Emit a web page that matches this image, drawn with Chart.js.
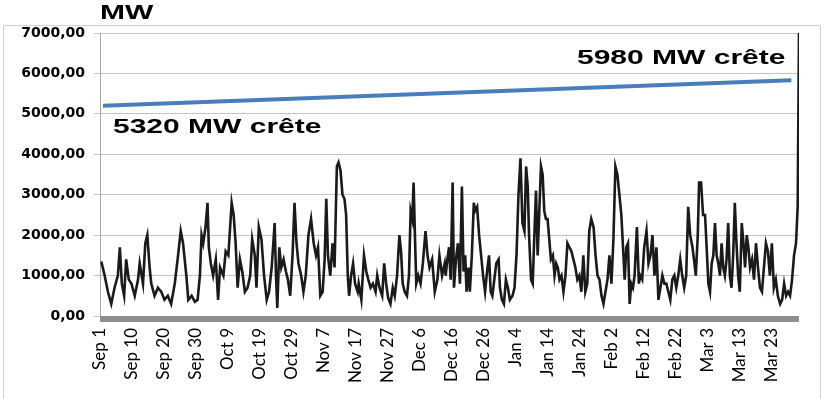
<!DOCTYPE html>
<html>
<head>
<meta charset="utf-8">
<script src="https://cdn.jsdelivr.net/npm/chart.js@4/dist/chart.umd.min.js"></script>
<style>
  html, body { margin: 0; padding: 0; background: #fff; }
  canvas { display: block; }
</style>
</head>
<body>
<canvas id="graph" width="826" height="399"></canvas>
<script>
// ---- DATA ----
// day index since Sep 1 and wind output (MW)
const days = [
  0.4, 1.4, 2.4, 3.4, 4.4, 5.4, 6.0, 6.6, 7.3, 7.9, 8.7, 9.5, 10.5, 11.5, 12.0, 13.0, 13.7, 14.3, 15.0, 15.5,
  16.5, 17.5, 18.5, 19.5, 20.5, 21.5, 22.6, 23.6, 24.4, 25.1, 26.1,
  26.7, 27.7, 28.7, 29.5, 30.2, 30.7, 31.2, 31.9, 32.5, 32.9, 33.5, 34.2, 35.0, 35.7, 36.3, 37.3, 38.0, 38.8, 39.8, 40.4,
  41.0, 41.6, 42.3, 43.0, 43.8, 44.6, 45.4, 46.0, 46.8, 47.3, 48.0, 48.8, 49.6, 50.4, 51.1, 51.9,
  52.8, 53.2, 53.6, 54.2, 54.8, 55.5, 56.2, 56.8, 57.5, 58.2, 58.8, 59.4, 60.0, 60.8, 61.5, 62.2, 63.0, 63.8, 64.6, 65.3,
  65.9, 66.6, 67.3, 67.9, 68.4, 68.9, 69.6, 70.3, 70.9, 71.6, 72.1, 72.7, 73.3, 73.9, 74.4, 74.9, 75.3, 75.9, 76.5, 77.1, 77.9,
  78.2, 79.0, 79.8, 80.5, 81.1, 81.8, 82.5, 83.3, 83.8, 84.5, 85.3, 85.9, 86.5, 87.1, 87.8, 88.5, 89.1, 89.8, 90.5, 91.0,
  91.5, 92.1, 92.8, 93.4, 93.9, 94.4, 94.8, 95.2, 95.6, 96.2, 96.9, 97.6, 98.4, 99.0, 99.6, 100.4, 101.2, 102.0, 102.6, 103.4, 104.2,
  104.5, 105.0, 105.5, 106.0, 106.6, 107.0, 107.6, 108.2, 108.8, 109.4, 109.9, 110.4, 110.8, 111.4, 111.8, 112.4, 113.0, 113.4, 114.0, 114.6,
  115.2, 115.8, 116.4, 117.0, 117.6, 118.1, 118.6, 119.2, 119.8, 120.5, 120.9, 121.5, 122.1, 122.7, 123.3, 123.9, 124.7, 125.3, 125.9, 126.5,
  127.1, 127.7, 128.3, 128.8, 129.3, 129.7, 130.3,
  130.8, 131.3, 131.8, 132.3, 132.8, 133.3, 133.8, 134.3, 134.8, 135.3, 135.9, 136.3, 136.9, 137.4, 137.9, 138.4, 138.9, 139.5, 140.1, 140.7,
  141.3, 141.9, 142.5, 143.1, 143.7, 144.3, 144.9, 145.5, 146.1, 146.7, 147.3, 147.9, 148.5, 149.2, 149.8, 150.4, 151.0, 151.6, 152.2, 152.8,
  153.4, 154.0, 154.6, 155.2, 155.8, 156.4, 157.0,
  157.6, 158.1, 158.6, 159.1, 159.6, 160.1, 160.6, 161.1, 161.6, 162.3, 162.9, 163.3, 163.9, 164.5, 165.2, 165.8, 166.4, 167.0, 167.6, 168.2,
  168.8, 169.4, 170.0, 170.6, 171.2, 171.8, 172.4, 173.0, 173.6, 174.2, 174.8, 175.4, 176.0, 176.6, 177.2, 177.8, 178.4, 179.1, 179.7, 180.1,
  180.7, 181.1, 181.7, 182.3, 182.9, 183.5,
  183.9, 184.4, 184.9, 185.4, 185.9, 186.4, 186.9, 187.4, 187.9, 188.4, 188.9, 189.4, 189.9, 190.4, 190.9, 191.4, 191.9, 192.4, 192.9, 193.4,
  194.0, 194.5, 195.0, 195.5, 196.0, 196.5, 197.1, 197.7, 198.3, 198.9, 199.5, 200.1, 200.7, 201.3, 201.9, 202.5, 203.1, 203.7, 204.3, 204.9,
  205.6, 206.2, 206.8, 207.4, 208.0, 208.6, 209.2, 209.8, 210.4, 210.9, 211.3
];

const output = [
  1350, 1000, 600, 300, 700, 1000, 1700, 800, 500, 1400, 900, 800, 500, 900, 1300, 800, 1800, 2000, 1200, 800,
  500, 700, 600, 400, 500, 300, 800, 1500, 2100, 1800, 1000,
  400, 500, 350, 400, 1000, 2000, 1800, 2200, 2800, 1700, 1300, 1000, 1400, 400, 1200, 1000, 1600, 1500, 2800, 2500,
  1800, 700, 1400, 1100, 600, 700, 1000, 1900, 1500, 700, 2200, 1900, 1000, 400, 600, 1200,
  2300, 1000, 200, 1700, 1200, 1400, 1100, 900, 500, 1500, 2800, 1800, 1300, 1000, 600, 1000, 2000, 2400, 1800, 1500,
  1700, 500, 600, 1400, 2900, 1500, 1000, 1800, 1200, 3700, 3800, 3600, 3000, 2900, 2500, 1000, 500, 1000, 1300, 800, 600,
  800, 400, 1500, 1100, 900, 700, 800, 600, 1000, 700, 500, 1300, 800, 450, 300, 700, 500, 1000, 2000, 1600,
  800, 600, 500, 1000, 2600, 2400, 3300, 2000, 800, 1000, 800, 1300, 2100, 1500, 1200, 1400, 600, 900, 1500, 1000, 1300,
  1000, 1400, 1700, 900, 3300, 700, 1400, 1800, 800, 3200, 1100, 1500, 600, 1200, 600, 1500, 2800, 2600, 2700, 2000,
  1500, 1000, 600, 1100, 1500, 600, 500, 900, 1300, 1400, 700, 400, 300, 900, 700, 400, 500, 700, 1500, 3000,
  3900, 2300, 2100, 3700, 3200, 2000, 900,
  800, 2000, 3100, 1500, 2600, 3700, 3500, 2600, 2400, 2400, 1800, 1400, 1500, 1000, 1300, 1200, 900, 1000, 600, 1000,
  1800, 1700, 1600, 1400, 1200, 900, 1000, 600, 1500, 600, 800, 2100, 2400, 2200, 1500, 1000, 900, 500, 300, 600,
  900, 1500, 800, 1900, 3700, 3500, 3000,
  2500, 1700, 900, 1700, 1800, 300, 800, 700, 1000, 2200, 800, 1000, 900, 1700, 2100, 1300, 1500, 2000, 1000, 1700,
  400, 700, 1000, 800, 800, 600, 400, 900, 1000, 700, 1000, 1400, 1000, 700, 1000, 2700, 2000, 1700, 1300, 1000,
  2000, 3300, 3300, 2500, 2500, 1500,
  800, 600, 1300, 1500, 2300, 1500, 1300, 1000, 1800, 1200, 1000, 1400, 2300, 1000, 700, 1500, 2800, 1800, 1000, 600,
  2300, 1800, 1200, 2000, 1700, 1200, 1400, 900, 1800, 1200, 700, 600, 1200, 1800, 1600, 1000, 1800, 700, 900, 500,
  300, 400, 800, 500, 600, 500, 900, 1500, 1800, 2700, 7000
];

// installed peak capacity trend
const peakDays = [0.9, 209];
const peakMW = [5200, 5830];

const tickLabels = [
  "Sep 1", "Sep 10", "Sep 20", "Sep 30", "Oct 9", "Oct 19", "Oct 29", "Nov 7", "Nov 17", "Nov 27", "Dec 6",
  "Dec 16", "Dec 26", "Jan 4", "Jan 14", "Jan 24", "Feb 2", "Feb 12", "Feb 22", "Mar 3", "Mar 13", "Mar 23"
];
const labelStep = 232 / 24; // one label every 232 hours

const notes = [
  { text: "5320 MW crête", x: 113, y: 133 },
  { text: "5980 MW crête", x: 577, y: 64 }
];

// ---- PLUGINS ----
const stretchText = (c, text, x, y, size, sx) => {
  c.save();
  c.translate(x, y);
  c.scale(sx, 1);
  c.font = `bold ${size}px "Liberation Sans", Arial, sans-serif`;
  c.fillStyle = "#000";
  c.textBaseline = "alphabetic";
  c.fillText(text, 0, 0);
  c.restore();
};

const frame = {
  id: "frame",
  beforeDraw(chart) {
    const c = chart.ctx;
    c.save();
    c.fillStyle = "#fff";
    c.fillRect(0, 0, chart.width, chart.height);
    c.strokeStyle = "#d0d0d0";
    c.lineWidth = 1;
    c.beginPath();
    c.moveTo(3.5, chart.height);
    c.lineTo(3.5, 25.5);
    c.lineTo(820.5, 25.5);
    c.lineTo(820.5, chart.height);
    c.stroke();
    c.restore();
  },
  afterDatasetsDraw(chart) {
    const c = chart.ctx;
    const a = chart.chartArea;
    c.save();
    c.fillStyle = "#8f8f8f";
    c.fillRect(a.left, a.bottom, a.right - a.left, 6);
    c.restore();
  },
  afterDraw(chart) {
    const c = chart.ctx;
    stretchText(c, "MW", 100, 19, 21, 1.43);
    notes.forEach((n) => stretchText(c, n.text, n.x, n.y, 20, 1.5));
  }
};

// ---- CHART ----
const ctx = document.getElementById("graph");

new Chart(ctx, {
  type: "line",
  data: {
    datasets: [
      {
        data: days.map((d, i) => ({ x: d, y: output[i] })),
        borderColor: "#1a1a1a",
        borderWidth: 2.6,
        pointRadius: 0,
        tension: 0
      },
      {
        data: peakDays.map((d, i) => ({ x: d, y: peakMW[i] })),
        borderColor: "#4a7ebb",
        borderWidth: 4,
        pointRadius: 0
      }
    ]
  },
  options: {
    responsive: false,
    animation: false,
    layout: { padding: { top: 33, right: 27, left: 0, bottom: 0 } },
    plugins: { legend: { display: false }, tooltip: { enabled: false } },
    scales: {
      x: {
        type: "linear",
        min: 0,
        max: 211.3,
        afterBuildTicks: (axis) => {
          axis.ticks = tickLabels.map((_, i) => ({ value: i * labelStep }));
        },
        afterFit: (axis) => { axis.height = 83; },
        grid: { display: false, drawTicks: false },
        border: { display: false },
        ticks: {
          autoSkip: false,
          maxRotation: 90,
          minRotation: 90,
          padding: 12,
          color: "#000",
          font: { family: "Lato", size: 17 },
          callback: (value, index) => tickLabels[index]
        }
      },
      y: {
        min: 0,
        max: 7000,
        afterFit: (axis) => { axis.width = 100; },
        grid: { color: "#c4c4c4", tickLength: 6 },
        border: { color: "#a6a6a6" },
        ticks: {
          stepSize: 1000,
          padding: 9,
          color: "#000",
          font: { family: "DejaVu Sans", weight: "bold", size: 14 },
          callback: (v) => v.toFixed(2).replace(".", ",")
        }
      }
    }
  },
  plugins: [frame]
});
</script>
</body>
</html>
